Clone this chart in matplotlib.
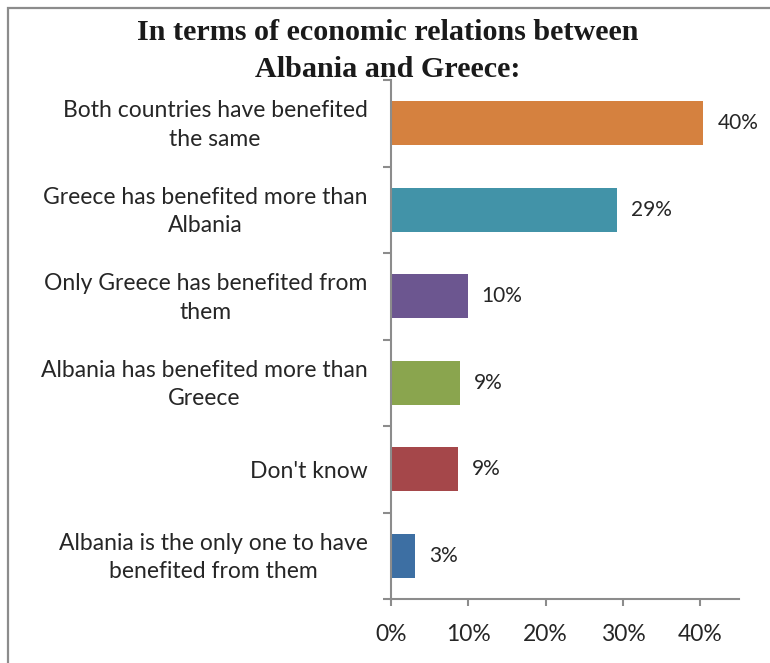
import matplotlib
matplotlib.use("Agg")
import matplotlib.pyplot as plt
from matplotlib.patches import Rectangle
from matplotlib.transforms import ScaledTranslation
import numpy as np

# data (top to bottom)
categories = [
    "Both countries have benefited\nthe same",
    "Greece has benefited more than\nAlbania",
    "Only Greece has benefited from\nthem",
    "Albania has benefited more than\nGreece",
    "Don't know",
    "Albania is the only one to have\nbenefited from them",
]
values = [40.4, 29.2, 9.9, 8.9, 8.6, 3.1]
colors = ["#D5813F", "#4293A8", "#6C5690", "#8AA54E", "#A5474A", "#3D6FA3"]
x_ticks = [0, 10, 20, 30, 40]

title = "In terms of economic relations between\nAlbania and Greece:"

text_color = "#262626"
axis_color = "#8C8C8C"
label_font = "Lato"

fig = plt.figure(figsize=(7.7, 6.63), dpi=100)

# outer frame (only left and top edges are visible)
fig.patches.append(Rectangle((8 / 770, -0.1), 1.2, 1 - 8 / 663 + 0.1,
                             transform=fig.transFigure, fill=False,
                             edgecolor=axis_color, linewidth=1.6))

ax = fig.add_axes([391 / 770, 1 - 599 / 663, (739 - 391) / 770, (599 - 80) / 663])

n = len(categories)
ypos = np.arange(n)
ax.barh(ypos, values, height=0.51, color=colors)
ax.set_ylim(n - 0.5, -0.5)
ax.set_xlim(0, 45)

for y, v in zip(ypos, values):
    ax.text(v + 1.8, y, f"{v:.0f}%", va="center", ha="left",
            fontsize=15, color=text_color, family=label_font)

# y axis: labels at bar centres, ticks at category boundaries
ax.set_yticks(ypos)
ax.set_yticklabels(categories, fontsize=16.5, color=text_color,
                   family=label_font, multialignment="center",
                   linespacing=1.45)
ax.tick_params(axis="y", which="major", length=0, pad=17)
ax.set_yticks(np.arange(-0.5, n, 1.0), minor=True)
ax.tick_params(axis="y", which="minor", length=5.5, width=1.5,
               color=axis_color, direction="out")

# two-line labels sit a little high in the original
for lbl in ax.get_yticklabels():
    if "\n" in lbl.get_text():
        lbl.set_transform(lbl.get_transform() +
                          ScaledTranslation(0, 4 / 100, fig.dpi_scale_trans))

ax.set_xticks(x_ticks)
ax.set_xticklabels([f"{t}%" for t in x_ticks], fontsize=16.5,
                   color=text_color, family=label_font)
ax.tick_params(axis="x", length=5, width=1.5, color=axis_color,
               direction="out", pad=13)

for side in ["top", "right"]:
    ax.spines[side].set_visible(False)
for side in ["left", "bottom"]:
    ax.spines[side].set_color(axis_color)
    ax.spines[side].set_linewidth(1.5)

fig.text(388 / 770, 1 - 51 / 663, title, ha="center", va="center",
         fontsize=21.7, fontweight="bold", family="Liberation Serif",
         color="#1a1a1a", linespacing=1.5)

fig.savefig("out.png", dpi=100)
